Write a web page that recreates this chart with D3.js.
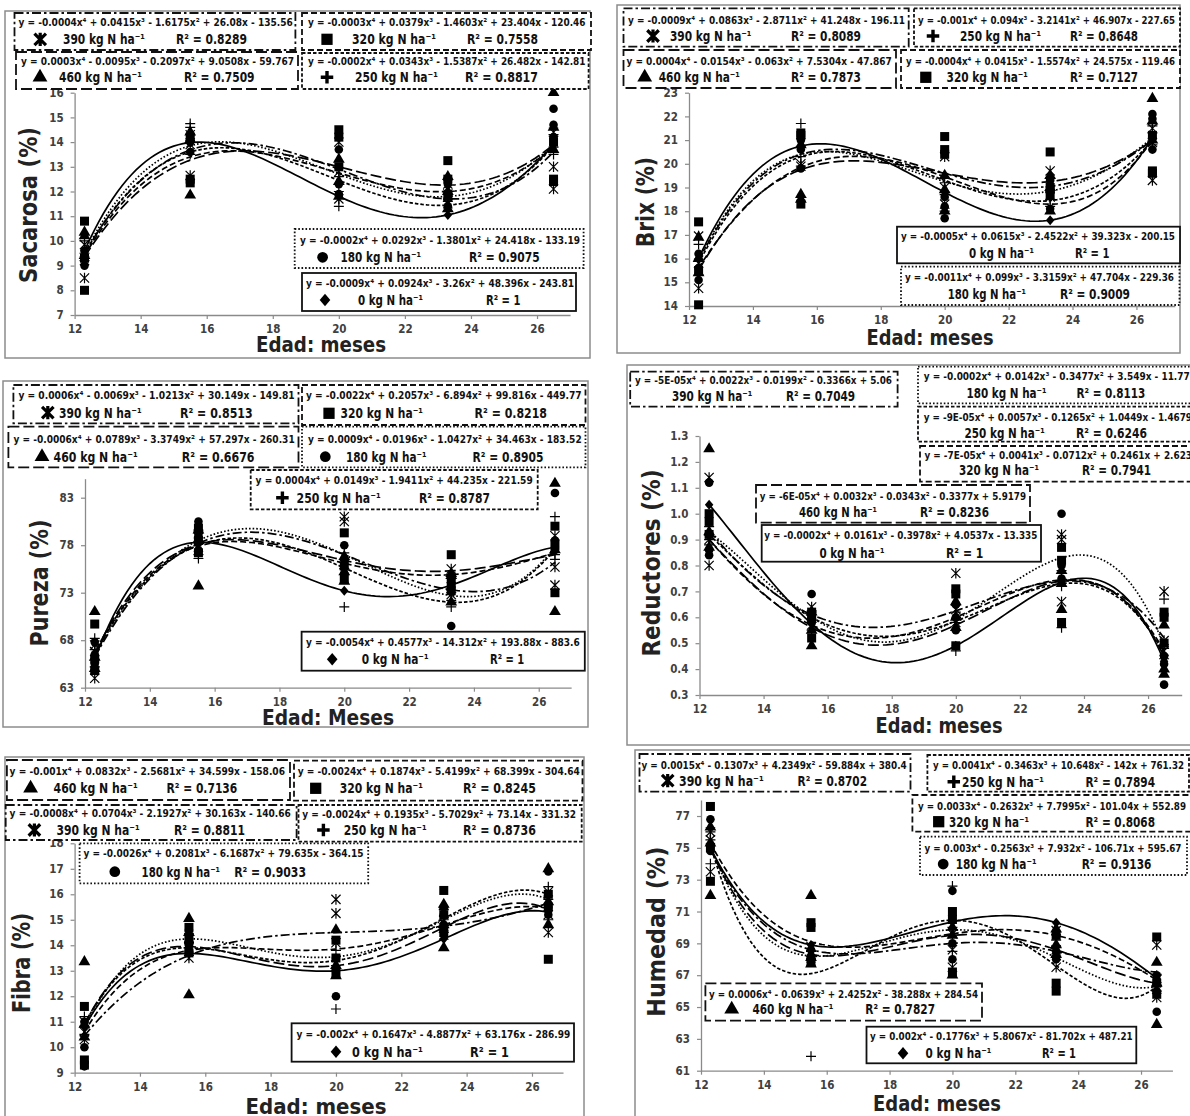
<!DOCTYPE html>
<html lang="es">
<head>
<meta charset="UTF-8">
<title>Sacarosa, Brix, Pureza, Reductores, Fibra y Humedad por edad</title>
<script src="https://d3js.org/d3.v7.min.js"></script>
<style>
  body { margin: 0; background: #fff; }
  svg text { font-family: "Liberation Sans Narrow", "DejaVu Sans Condensed", "Liberation Sans", sans-serif; }
</style>
</head>
<body>
<svg id="fig" width="1190" height="1116"></svg>
<script>
// ages (months) where samples were taken, and N doses
const ages = [12.3, 15.5, 20, 23.3, 26.5];
const doses = ["0", "180", "250", "320", "390", "460"];

// ---- Sacarosa ----
const sacarosaFit = [
  [9.6, 13.98, 11.8, 11.05, 13.9],
  [9.5, 13.85, 12.7, 11.8, 13.9],
  [9.45, 13.6, 12.45, 11.45, 13.85],
  [9.4, 13.4, 12.75, 12.0, 13.8],
  [9.5, 13.68, 12.9, 11.7, 13.6],
  [9.35, 13.27, 13.0, 12.26, 13.9]];
const sacarosaObs = [
  [[9.6], [13.98], [11.8], [11.05], [13.9]],
  [[9.0, 9.3, 9.6], [13.6, 14.0, 14.3], [13.7, 12.3, 11.9], [11.4, 11.9, 12.3], [15.35, 14.7, 14.2]],
  [[10.0, 9.2, 9.5], [14.75, 14.6, 13.5], [11.4, 12.0, 12.6], [11.2, 11.6, 12.0], [13.8, 14.3, 13.5]],
  [[10.8, 8.0, 9.3], [12.35, 12.5, 14.2], [14.5, 14.2, 13.0], [13.25, 12.5, 11.8], [12.5, 12.4, 14.0]],
  [[8.5, 9.85, 9.2], [12.65, 14.3, 13.9], [14.0, 12.8, 11.7], [12.3, 11.5, 11.9], [13.0, 12.1, 14.4]],
  [[10.35, 10.2, 9.4], [11.85, 14.1, 14.4], [12.4, 13.3, 11.8], [12.0, 12.6, 11.3], [16.0, 14.6, 13.7]]];
const sacarosaEq = [
  "y = -0.0009x⁴ + 0.0924x³ - 3.26x² + 48.396x - 243.81",
  "y = -0.0002x⁴ + 0.0292x³ - 1.3801x² + 24.418x - 133.19",
  "y = -0.0002x⁴ + 0.0343x³ - 1.5387x² + 26.482x - 142.81",
  "y = -0.0003x⁴ + 0.0379x³ - 1.4603x² + 23.404x - 120.46",
  "y = -0.0004x⁴ + 0.0415x³ - 1.6175x² + 26.08x - 135.56",
  "y = 0.0003x⁴ - 0.0095x³ - 0.2097x² + 9.0508x - 59.767"];
const sacarosaR2 = ["1", "0.9075", "0.8817", "0.7558", "0.8289", "0.7509"];

// ---- Brix ----
const brixFit = [
  [16.0, 20.75, 18.8, 17.62, 21.1],
  [15.9, 20.4, 19.25, 18.85, 21.1],
  [15.8, 20.3, 19.3, 18.45, 21.0],
  [15.6, 19.85, 19.45, 18.3, 21.0],
  [15.9, 20.4, 19.6, 19.05, 21.0],
  [15.5, 19.75, 19.6, 19.25, 21.0]];
const brixObs = [
  [[16.0], [20.75], [18.8], [17.62], [21.1]],
  [[15.1, 16.2, 15.6], [19.8, 20.6, 21.0], [17.7, 18.2, 18.6], [18.1, 18.8, 19.3], [22.1, 21.9, 20.6]],
  [[16.6, 15.3, 15.9], [21.7, 20.3, 19.9], [19.2, 18.7, 18.0], [18.5, 19.4, 18.2], [21.3, 20.8, 21.6]],
  [[17.55, 14.05, 15.5], [21.3, 21.2, 18.3], [21.15, 20.6, 20.4], [20.5, 19.0, 18.7], [19.7, 19.6, 21.2]],
  [[16.95, 14.75, 15.8], [20.9, 20.0, 19.9], [20.3, 19.0, 18.3], [19.7, 19.2, 18.6], [19.3, 21.5, 20.9]],
  [[16.9, 15.4, 16.0], [18.7, 18.5, 20.8], [18.9, 19.5, 18.0], [18.0, 19.5, 19.0], [22.75, 21.8, 21.0]]];
const brixEq = [
  "y = -0.0005x⁴ + 0.0615x³ - 2.4522x² + 39.323x - 200.15",
  "y = -0.0011x⁴ + 0.099x³ - 3.3159x² + 47.704x - 229.36",
  "y = -0.001x⁴ + 0.094x³ - 3.2141x² + 46.907x - 227.65",
  "y = -0.0004x⁴ + 0.0415x³ - 1.5574x² + 24.575x - 119.46",
  "y = -0.0009x⁴ + 0.0863x³ - 2.8711x² + 41.248x - 196.11",
  "y = 0.0004x⁴ - 0.0154x³ - 0.063x² + 7.5304x - 47.867"];
const brixR2 = ["1", "0.9009", "0.8648", "0.7127", "0.8089", "0.7873"];

// ---- Pureza ----
const purezaFit = [
  [66.0, 78.3, 73.2, 73.8, 77.8],
  [66.5, 78.5, 77.0, 72.7, 77.8],
  [66.8, 78.0, 75.6, 72.0, 77.6],
  [66.3, 77.9, 76.1, 74.9, 77.2],
  [66.2, 78.2, 77.0, 73.3, 76.2],
  [66.6, 78.1, 76.4, 75.3, 77.0]];
const purezaObs = [
  [[66.0], [78.3], [73.2], [73.8], [77.8]],
  [[66.5, 67.8, 65.5], [80.5, 79.0, 77.5], [78.0, 76.5, 75.0], [69.5, 73.5, 74.5], [83.5, 77.5, 78.5]],
  [[65.2, 67.0, 68.2], [79.5, 77.0, 76.6], [71.5, 75.5, 77.2], [71.5, 73.0, 72.2], [81.0, 77.0, 76.5]],
  [[69.7, 66.0, 64.8], [79.8, 77.2, 78.5], [79.3, 74.5, 75.8], [77.0, 74.0, 73.2], [80.0, 73.0, 78.0]],
  [[64.0, 66.8, 67.5], [78.8, 77.8, 79.2], [81.0, 80.5, 76.0], [75.5, 72.8, 74.5], [75.7, 73.8, 79.0]],
  [[71.0, 66.2, 65.0], [73.7, 78.6, 79.6], [75.2, 76.8, 74.2], [72.0, 74.8, 75.0], [84.5, 71.0, 77.5]]];
const purezaEq = [
  "y = -0.0054x⁴ + 0.4577x³ - 14.312x² + 193.88x - 883.6",
  "y = 0.0009x⁴ - 0.0196x³ - 1.0427x² + 34.463x - 183.52",
  "y = 0.0004x⁴ + 0.0149x³ - 1.9411x² + 44.235x - 221.59",
  "y = -0.0022x⁴ + 0.2057x³ - 6.894x² + 99.816x - 449.77",
  "y = 0.0006x⁴ - 0.0069x³ - 1.0213x² + 30.149x - 149.81",
  "y = -0.0006x⁴ + 0.0789x³ - 3.3749x² + 57.297x - 260.31"];
const purezaR2 = ["1", "0.8905", "0.8787", "0.8218", "0.8513", "0.6676"];

// ---- Reductores ----
const reductoresFit = [
  [1.035, 0.575, 0.49, 0.735, 0.43],
  [0.93, 0.6, 0.59, 0.83, 0.49],
  [0.92, 0.6, 0.585, 0.73, 0.46],
  [0.9, 0.57, 0.6, 0.745, 0.47],
  [0.935, 0.61, 0.625, 0.74, 0.52],
  [0.9, 0.56, 0.57, 0.74, 0.45]];
const reductoresObs = [
  [[1.035], [0.575], [0.49], [0.735], [0.43]],
  [[1.12, 0.86, 0.84], [0.69, 0.6, 0.58], [0.55, 0.6, 0.65], [1.0, 0.8, 0.75], [0.34, 0.45, 0.42]],
  [[0.95, 0.9, 0.88], [0.62, 0.55, 0.58], [0.47, 0.62, 0.58], [0.56, 0.78, 0.72], [0.67, 0.48, 0.44]],
  [[1.0, 0.97, 0.92], [0.52, 0.62, 0.6], [0.71, 0.69, 0.49], [0.87, 0.58, 0.82], [0.62, 0.6, 0.5]],
  [[1.14, 0.8, 0.9], [0.64, 0.61, 0.57], [0.77, 0.63, 0.58], [0.92, 0.9, 0.66], [0.7, 0.51, 0.47]],
  [[1.25, 0.93, 0.87], [0.49, 0.55, 0.62], [0.6, 0.66, 0.56], [0.63, 0.73, 0.78], [0.57, 0.4, 0.38]]];
const reductoresEq = [
  "y = -0.0002x⁴ + 0.0161x³ - 0.3978x² + 4.0537x - 13.335",
  "y = -0.0002x⁴ + 0.0142x³ - 0.3477x² + 3.549x - 11.776",
  "y = -9E-05x⁴ + 0.0057x³ - 0.1265x² + 1.0449x - 1.4679",
  "y = -7E-05x⁴ + 0.0041x³ - 0.0712x² + 0.2461x + 2.623",
  "y = -5E-05x⁴ + 0.0022x³ - 0.0199x² - 0.3366x + 5.06",
  "y = -6E-05x⁴ + 0.0032x³ - 0.0343x² - 0.3377x + 5.9179"];
const reductoresR2 = ["1", "0.8113", "0.6246", "0.7941", "0.7049", "0.8236"];

// ---- Fibra ----
const fibraFit = [
  [10.8, 13.68, 13.0, 14.25, 15.3],
  [10.7, 14.25, 13.55, 15.0, 15.8],
  [10.9, 13.9, 13.4, 15.05, 16.0],
  [10.6, 13.8, 13.85, 14.8, 15.45],
  [10.45, 13.6, 14.5, 14.75, 15.65],
  [10.9, 13.95, 13.2, 14.7, 15.4]];
const fibraObs = [
  [[10.8], [13.68], [13.0], [14.25], [15.3]],
  [[10.0, 9.25, 11.0], [14.0, 14.6, 13.8], [12.0, 13.5, 13.0], [15.2, 14.8, 15.5], [16.9, 15.5, 15.2]],
  [[11.2, 10.8, 10.5], [14.4, 13.6, 14.1], [11.5, 13.8, 13.2], [15.0, 14.5, 15.4], [16.3, 15.8, 15.0]],
  [[11.6, 9.5, 9.3], [14.7, 13.7, 14.2], [14.2, 13.5, 12.9], [16.15, 14.5, 15.2], [13.45, 16.0, 15.5]],
  [[11.0, 10.6, 10.3], [14.3, 13.9, 13.5], [15.8, 15.25, 14.1], [15.0, 14.4, 15.3], [14.5, 15.2, 16.1]],
  [[13.35, 10.9, 10.4], [15.05, 12.05, 14.5], [14.6, 13.2, 12.8], [13.9, 14.8, 15.6], [17.0, 15.7, 14.8]]];
const fibraEq = [
  "y = -0.002x⁴ + 0.1647x³ - 4.8877x² + 63.176x - 286.99",
  "y = -0.0026x⁴ + 0.2081x³ - 6.1687x² + 79.635x - 364.15",
  "y = -0.0024x⁴ + 0.1935x³ - 5.7029x² + 73.14x - 331.32",
  "y = -0.0024x⁴ + 0.1874x³ - 5.4199x² + 68.399x - 304.64",
  "y = -0.0008x⁴ + 0.0704x³ - 2.1927x² + 30.163x - 140.66",
  "y = -0.001x⁴ + 0.0832x³ - 2.5681x² + 34.599x - 158.06"];
const fibraR2 = ["1", "0.9033", "0.8736", "0.8245", "0.8811", "0.7136"];

// ---- Humedad ----
const humedadFit = [
  [75.0, 68.9, 70.35, 70.3, 66.8],
  [75.1, 68.2, 69.85, 68.1, 66.3],
  [75.2, 67.1, 70.45, 67.6, 66.3],
  [75.3, 69.1, 69.6, 69.5, 66.7],
  [74.9, 68.6, 69.0, 68.5, 67.2],
  [75.0, 68.3, 69.5, 68.6, 66.5]];
const humedadObs = [
  [[75.0], [68.9], [70.35], [70.3], [66.8]],
  [[76.8, 75.2, 74.8], [68.2, 67.8, 68.6], [72.3, 69.0, 68.0], [69.5, 68.5, 68.0], [64.7, 66.0, 67.0]],
  [[74.0, 75.5, 76.0], [61.9, 68.5, 68.0], [72.6, 70.0, 68.5], [68.8, 69.2, 68.2], [66.0, 67.0, 66.3]],
  [[77.6, 72.9, 75.0], [70.3, 70.0, 68.0], [71.0, 70.5, 67.2], [66.5, 66.0, 69.5], [69.4, 66.5, 65.8]],
  [[73.5, 76.0, 75.5], [68.8, 68.3, 67.9], [69.6, 68.6, 67.5], [67.5, 69.8, 68.6], [68.9, 66.8, 65.6]],
  [[72.0, 75.3, 76.3], [72.0, 68.1, 67.7], [69.5, 70.0, 67.0], [69.9, 68.9, 68.3], [67.8, 63.9, 66.5]]];
const humedadEq = [
  "y = 0.002x⁴ - 0.1776x³ + 5.8067x² - 81.702x + 487.21",
  "y = 0.003x⁴ - 0.2563x³ + 7.932x² - 106.71x + 595.67",
  "y = 0.0041x⁴ - 0.3463x³ + 10.648x² - 142x + 761.32",
  "y = 0.0033x⁴ - 0.2632x³ + 7.7995x² - 101.04x + 552.89",
  "y = 0.0015x⁴ - 0.1307x³ + 4.2349x² - 59.884x + 380.4",
  "y = 0.0006x⁴ - 0.0639x³ + 2.4252x² - 38.288x + 284.54"];
const humedadR2 = ["1", "0.9136", "0.7894", "0.8068", "0.8702", "0.7827"];

// line style per dose: 0 solid, 180 dotted, 250 short dash, 320 dash, 390 dash-dot, 460 long dash
const dash = ["", "1.6,2", "3.5,2", "6,3", "9,3,2.5,3", "11,4"];

const panels = [
  { fit: sacarosaFit, obs: sacarosaObs, eq: sacarosaEq, r2: sacarosaR2,
    frame: [5, 11, 590, 358], x12: 74.6, pxm: 33.03, xMax: 27, yDom: [7, 16], yRng: [315, 92.7],
    yTicks: d3.range(7, 17), fmt: d3.format("d"),
    yTitle: "Sacarosa (%)", yT: [29, 205, 156], xTitle: "Edad: meses", xT: [321, 352, 130],
    boxes: [
      { d: 4, r: [14.5, 13, 295.4, 50], e: [18.4, 292.8, 22.7], m: 40.2, l: [63, 145], q: [176, 247], c: 39.3 },
      { d: 3, r: [302, 13, 591, 50], e: [308, 585.5, 22.7], m: 327, l: [352, 436], q: [467, 538], c: 39.3 },
      { d: 5, r: [16, 52, 298, 89], e: [21, 294, 61], m: 40, l: [59, 142], q: [184, 254.5], c: 77.3 },
      { d: 2, r: [302, 53, 588.6, 89], e: [308, 585.5, 61], m: 327, l: [355, 438], q: [465, 538], c: 77.3 },
      { d: 1, r: [294.7, 229, 583.6, 268], e: [300, 580, 240], m: 322.6, l: [340.6, 421], q: [469, 539.6], c: 257.3 },
      { d: 0, r: [302, 273, 576, 311], e: [306, 574, 283.3], m: 325, l: [358, 423], q: [486, 520.5], c: 300 }] },
  { fit: brixFit, obs: brixObs, eq: brixEq, r2: brixR2,
    frame: [617, 5, 1180, 353], x12: 689, pxm: 31.96, xMax: 27.2, yDom: [14, 23], yRng: [306, 92.7],
    yTicks: d3.range(14, 24), fmt: d3.format("d"),
    yTitle: "Brix (%)", yT: [646, 202, 90], xTitle: "Edad: meses", xT: [930, 345, 127],
    boxes: [
      { d: 4, r: [623.5, 8.3, 908.7, 46.7], e: [628, 905, 20], m: 653, l: [670, 751.5], q: [791, 861], c: 36 },
      { d: 2, r: [914, 8.3, 1180, 46.7], e: [918, 1175, 20], m: 933, l: [960, 1041], q: [1070, 1138], c: 36 },
      { d: 5, r: [623.5, 50, 896, 88], e: [626.5, 891.7, 61.7], m: 644.7, l: [658.7, 740], q: [791, 861], c: 77.3 },
      { d: 3, r: [901, 50, 1180, 88], e: [906, 1175, 61.7], m: 925.8, l: [946.6, 1028], q: [1070, 1138], c: 77.3 },
      { d: 0, r: [897, 226.7, 1180, 263.3], e: [901, 1175, 236.7], m: null, l: [969, 1034], q: [1075, 1109.5], c: 252.7 },
      { d: 1, r: [901, 266.7, 1179.5, 305], e: [905, 1174, 277.7], m: null, l: [947.7, 1026], q: [1060, 1130], c: 294 }] },
  { fit: purezaFit, obs: purezaObs, eq: purezaEq, r2: purezaR2,
    frame: [3, 381, 588, 727], x12: 85, pxm: 32.41, xMax: 27, yDom: [63, 85], yRng: [687.7, 478.7],
    yTicks: [63, 68, 73, 78, 83], fmt: d3.format("d"),
    yTitle: "Pureza (%)", yT: [40, 583, 127], xTitle: "Edad: Meses", xT: [328, 725, 132],
    boxes: [
      { d: 4, r: [13.4, 385, 298.5, 423.3], e: [18.4, 294.7, 395], m: 47.8, l: [59, 141.6], q: [180, 252.6], c: 412.7 },
      { d: 3, r: [302, 385, 585.5, 425], e: [306, 581.7, 395], m: 329, l: [340.6, 423], q: [474.6, 547], c: 413.3 },
      { d: 5, r: [8.4, 426.7, 298.5, 467.3], e: [13.4, 294.7, 439], m: 42, l: [53.6, 137.8], q: [181.8, 254.5], c: 456.7 },
      { d: 1, r: [302, 426.7, 585.5, 467.3], e: [308, 581.7, 439], m: 325.3, l: [346, 426.7], q: [472.6, 543.4], c: 456.7 },
      { d: 2, r: [250.7, 470, 537.7, 509.3], e: [255.6, 532.7, 480.7], m: 282.4, l: [296.6, 380.8], q: [419, 490], c: 497.7 },
      { d: 0, r: [301.6, 631.7, 584.8, 670.7], e: [306, 579.8, 642.7], m: 332.2, l: [361.7, 428.6], q: [490, 524.3], c: 659.3 }] },
  { fit: reductoresFit, obs: reductoresObs, eq: reductoresEq, r2: reductoresR2,
    frame: [627, 365, 1205, 745], x12: 699.5, pxm: 32.04, xMax: 27.05, yDom: [0.3, 1.3], yRng: [695, 436],
    yTicks: d3.range(3, 14).map(v => v / 10), fmt: d3.format(".1f"),
    yTitle: "Reductores (%)", yT: [652, 563, 187], xTitle: "Edad: meses", xT: [939, 733, 127],
    boxes: [
      { d: 4, r: [630.2, 371.7, 897.6, 406.7], e: [635, 892, 380], m: null, l: [672, 752.4], q: [786, 855], c: 396 },
      { d: 1, r: [918, 366.7, 1205, 403.3], e: [923.7, 1196, 376.7], m: null, l: [966.5, 1046.6], q: [1076.4, 1145.3], c: 393 },
      { d: 2, r: [918, 406.7, 1205, 441.7], e: [923.7, 1192, 417.3], m: null, l: [964.6, 1044.8], q: [1076, 1147], c: 432.7 },
      { d: 3, r: [920, 446, 1205, 481.7], e: [924.4, 1192, 455], m: null, l: [959, 1039], q: [1082, 1151], c: 470 },
      { d: 5, r: [756, 485, 1030, 522.7], e: [759.8, 1026, 496.7], m: null, l: [799, 877], q: [920, 988.9], c: 511.7 },
      { d: 0, r: [761.7, 525, 1041, 561.7], e: [764.3, 1037.3, 535], m: null, l: [819.4, 884.6], q: [946, 983.3], c: 552.7 }] },
  { fit: fibraFit, obs: fibraObs, eq: fibraEq, r2: fibraR2,
    frame: [5, 757, 584, 1130], x12: 74.6, pxm: 32.67, xMax: 26.95, yDom: [9, 18], yRng: [1072.7, 843.3],
    yTicks: d3.range(9, 19), fmt: d3.format("d"),
    yTitle: "Fibra (%)", yT: [22, 963, 100], xTitle: "Edad: meses", xT: [316, 1114, 141],
    boxes: [
      { d: 5, r: [6.9, 760, 290, 800], e: [9.6, 285, 771.7], m: 30.6, l: [53.6, 137.8], q: [166.5, 237.3], c: 788.3 },
      { d: 3, r: [294, 760.7, 582.5, 800.7], e: [297.7, 579.8, 771.7], m: 315.7, l: [339.8, 423], q: [463, 535.8], c: 788.3 },
      { d: 4, r: [5.7, 805, 296.6, 840], e: [9.6, 290.9, 813.3], m: 34.4, l: [56.6, 139.7], q: [174, 245], c: 830 },
      { d: 2, r: [298.5, 805, 581.7, 841.7], e: [302.3, 576, 814], m: 323.4, l: [343.7, 426.7], q: [463, 535.8], c: 830 },
      { d: 1, r: [79.6, 843.3, 368.2, 883.3], e: [83.4, 363.6, 853.3], m: 114.8, l: [141.6, 220], q: [234.2, 306], c: 871.7 },
      { d: 0, r: [291.6, 1023.3, 574, 1061.7], e: [296.6, 570.2, 1034], m: 336, l: [352, 423], q: [470, 509], c: 1051.7 }] },
  { fit: humedadFit, obs: humedadObs, eq: humedadEq, r2: humedadR2,
    frame: [635, 750, 1205, 1130], x12: 701, pxm: 31.43, xMax: 27, yDom: [61, 78], yRng: [1070.7, 800.1],
    yTicks: d3.range(61, 78, 2), fmt: d3.format("d"),
    yTitle: "Humedad (%)", yT: [656.5, 931.7, 170], xTitle: "Edad: meses", xT: [937, 1111, 128],
    boxes: [
      { d: 4, r: [639.5, 754, 910.5, 791.7], e: [641.4, 906.7, 765], m: 667.7, l: [679, 763.7], q: [797.6, 867], c: 780.7 },
      { d: 2, r: [927.4, 755, 1189, 791.7], e: [933, 1184, 765], m: 953.8, l: [962, 1044], q: [1085.5, 1155], c: 781.7 },
      { d: 3, r: [912.4, 795, 1191, 831.7], e: [918, 1186, 806.7], m: 938.7, l: [949, 1029], q: [1085.5, 1155], c: 821.7 },
      { d: 1, r: [920, 836.7, 1187, 875], e: [924.4, 1181.5, 848.3], m: 943.2, l: [955.7, 1036.6], q: [1081.7, 1151.4], c: 864 },
      { d: 5, r: [705.4, 983.3, 982, 1020.7], e: [709, 978, 994], m: 731.7, l: [752.4, 833.3], q: [865.3, 935], c: 1009.3 },
      { d: 0, r: [866.5, 1026.7, 1136.3, 1063.3], e: [870, 1132.6, 1036.7], m: 903, l: [925.6, 991.4], q: [1042, 1076], c: 1053.3 }] }
];

const svg = d3.select("#fig");

// 4th order trendline through the fitted values (5 ages -> exact quartic)
function quartic(ys) {
  return x => d3.sum(ages.map((xi, i) => {
    let t = ys[i];
    ages.forEach((xj, j) => { if (j !== i) t *= (x - xj) / (xi - xj); });
    return t;
  }));
}

// marker shapes; big = legend version
function marker(g, d, cx, cy, big) {
  const k = big ? 1.25 : 1;
  if (d === 0) {
    const s = 5 * k;
    g.append("path").attr("d", `M${cx},${cy - s}L${cx + s * 0.85},${cy}L${cx},${cy + s}L${cx - s * 0.85},${cy}Z`).attr("fill", "#000");
  } else if (d === 1) {
    g.append("circle").attr("cx", cx).attr("cy", cy).attr("r", 4.3 * k).attr("fill", "#000");
  } else if (d === 2) {
    const s = 5 * k;
    g.append("path").attr("d", `M${cx - s},${cy}H${cx + s}M${cx},${cy - s}V${cy + s}`)
      .attr("stroke", "#000").attr("stroke-width", big ? 3.4 : 1.2).attr("fill", "none");
  } else if (d === 3) {
    const s = 4.5 * k;
    g.append("rect").attr("x", cx - s).attr("y", cy - s).attr("width", 2 * s).attr("height", 2 * s).attr("fill", "#000");
  } else if (d === 4) {
    const s = 4.6 * k;
    g.append("path").attr("d", `M${cx - s},${cy - s}L${cx + s},${cy + s}M${cx - s},${cy + s}L${cx + s},${cy - s}M${cx},${cy - s * 1.15}V${cy + s * 1.15}`)
      .attr("stroke", "#000").attr("stroke-width", big ? 3.2 : 1.2).attr("fill", "none");
  } else {
    g.append("path").attr("transform", `translate(${cx},${cy})`)
      .attr("d", d3.symbol(d3.symbolTriangle, big ? 95 : 60)()).attr("fill", "#000");
  }
}

function drawPanel(p) {
  const g = svg.append("g");
  const x = d3.scaleLinear().domain([12, p.xMax]).range([p.x12, p.x12 + (p.xMax - 12) * p.pxm]);
  const y = d3.scaleLinear().domain(p.yDom).range(p.yRng);
  const [fx0, fy0, fx1, fy1] = p.frame;

  g.append("rect").attr("x", fx0).attr("y", fy0).attr("width", fx1 - fx0).attr("height", fy1 - fy0)
    .attr("fill", "#fff").attr("stroke", "#8c8c8c").attr("stroke-width", 1.5);

  const xAxis = g.append("g").attr("transform", `translate(0,${p.yRng[0]})`)
    .call(d3.axisBottom(x).tickValues(d3.range(12, 27, 2)).tickSize(4).tickSizeOuter(0).tickPadding(6));
  const yAxis = g.append("g").attr("transform", `translate(${p.x12},0)`)
    .call(d3.axisLeft(y).tickValues(p.yTicks).tickFormat(p.fmt).tickSize(4).tickSizeOuter(0).tickPadding(7));
  [xAxis, yAxis].forEach(a => {
    a.select(".domain").attr("stroke", "#8a8a8a").attr("stroke-width", 1.3);
    a.selectAll(".tick line").attr("stroke", "#8a8a8a").attr("stroke-width", 1.2);
    a.selectAll(".tick text").attr("fill", "#404040").attr("font-size", 11.5).attr("font-weight", "bold")
      .style("font-family", "'Liberation Sans Narrow', 'DejaVu Sans Condensed', sans-serif");
  });

  // observations
  p.obs.forEach((byAge, d) => {
    byAge.forEach((vals, i) => vals.forEach(v => marker(g, d, x(ages[i]), y(v), false)));
  });

  // trendlines
  const xs = d3.range(0, 101).map(i => ages[0] + i * (ages[4] - ages[0]) / 100);
  const line = d3.line().x(v => x(v[0])).y(v => y(v[1]));
  p.fit.forEach((ys, d) => {
    const f = quartic(ys);
    g.append("path").attr("d", line(xs.map(v => [v, f(v)])))
      .attr("fill", "none").attr("stroke", "#000").attr("stroke-width", 1.7)
      .attr("stroke-dasharray", dash[d] || null);
  });

  // titles
  g.append("text").attr("transform", `translate(${p.yT[0] + 8},${p.yT[1]}) rotate(-90)`)
    .attr("text-anchor", "middle").attr("font-size", 24).attr("font-weight", "bold").attr("fill", "#222")
    .attr("textLength", p.yT[2]).attr("lengthAdjust", "spacingAndGlyphs").text(p.yTitle);
  g.append("text").attr("x", p.xT[0]).attr("y", p.xT[1]).attr("text-anchor", "middle")
    .attr("font-size", 21).attr("font-weight", "bold").attr("fill", "#222")
    .attr("textLength", p.xT[2]).attr("lengthAdjust", "spacingAndGlyphs").text(p.xTitle);

  // trendline labels
  p.boxes.forEach(b => {
    const [x0, y0, x1, y1] = b.r;
    g.append("rect").attr("x", x0).attr("y", y0).attr("width", x1 - x0).attr("height", y1 - y0)
      .attr("fill", "#fff").attr("stroke", "#111").attr("stroke-width", 1.8)
      .attr("stroke-dasharray", dash[b.d] || null);
    g.append("text").attr("x", b.e[0]).attr("y", b.e[2] + 3.7).attr("font-size", 10.5).attr("font-weight", "bold")
      .attr("fill", "#111").attr("textLength", b.e[1] - b.e[0]).attr("lengthAdjust", "spacingAndGlyphs")
      .text(p.eq[b.d]);
    if (b.m !== null) marker(g, b.d, b.m, b.c, true);
    g.append("text").attr("x", b.l[0]).attr("y", b.c + 5).attr("font-size", 14.5).attr("font-weight", "bold")
      .attr("fill", "#111").attr("textLength", b.l[1] - b.l[0]).attr("lengthAdjust", "spacingAndGlyphs")
      .text(doses[b.d] + " kg N ha⁻¹");
    g.append("text").attr("x", b.q[0]).attr("y", b.c + 5).attr("font-size", 14.5).attr("font-weight", "bold")
      .attr("fill", "#111").attr("textLength", b.q[1] - b.q[0]).attr("lengthAdjust", "spacingAndGlyphs")
      .text("R² = " + p.r2[b.d]);
  });
}

panels.forEach(drawPanel);
</script>
</body>
</html>
